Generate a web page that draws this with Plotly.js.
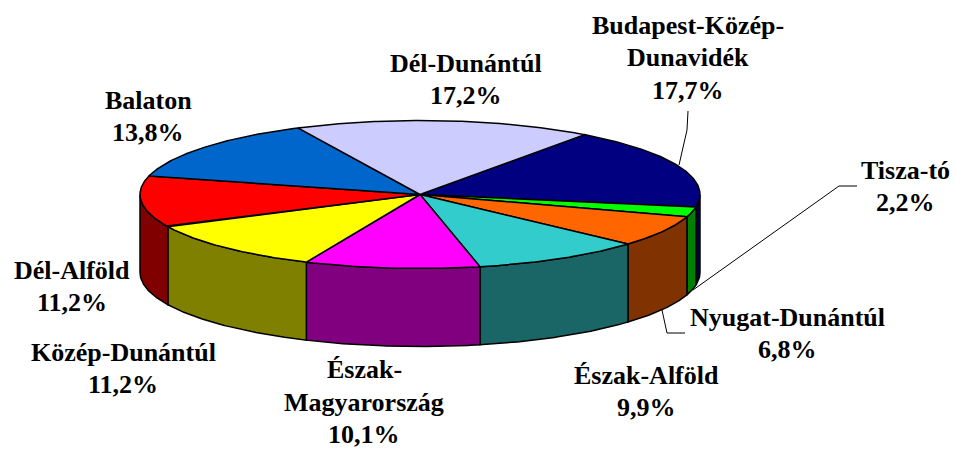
<!DOCTYPE html>
<html>
<head>
<meta charset="utf-8">
<script src="https://cdn.plot.ly/plotly-3.0.1.min.js"></script>
<style>html,body{margin:0;padding:0;background:#fff}#c{width:955px;height:450px}</style>
</head>
<body>
<div id="c"></div>
<script>
// Data, clockwise from the pie's starting angle
const categories = ["Budapest-Közép-Dunavidék","Tisza-tó","Nyugat-Dunántúl","Észak-Alföld","Észak-Magyarország","Közép-Dunántúl","Dél-Alföld","Balaton","Dél-Dunántúl"];
const values = [17.7,2.2,6.8,9.9,10.1,11.2,11.2,13.8,17.2];
const labelLines = [["Budapest-Közép-","Dunavidék"],["Tisza-tó"],["Nyugat-Dunántúl"],["Észak-Alföld"],["Észak-","Magyarország"],["Közép-Dunántúl"],["Dél-Alföld"],["Balaton"],["Dél-Dunántúl"]];
const topColors = ["#000080","#00FF00","#FF6600","#33CCCC","#FF00FF","#FFFF00","#FF0000","#0066CC","#CCCCFF"];
const sideColors = ["#000040","#008000","#803300","#1A6666","#800080","#808000","#800000","#003366","#666680"];

// Geometry of the tilted pie
const cx = 420, cy = 194.5, rx = 280, ry = 74, depth = 78, startDeg = 36;
const labelX = [688,905,787,646,364,123,72,148,466];
const labelY = [25,170,317,375,369.5,352,270,100,63];
const lineGap = 32.5;

const total = values.reduce((a,b)=>a+b,0);
const px = d => cx + rx*Math.sin(d*Math.PI/180);
const py = d => cy - ry*Math.cos(d*Math.PI/180);
function arc(a,b){ const o=[]; const n=Math.max(2,Math.ceil((b-a)/0.5)); for(let i=0;i<=n;i++) o.push(a+(b-a)*i/n); return o; }

const sides=[], tops=[], annotations=[];
let a = startDeg;
values.forEach((v,i)=>{
  const b = a + v/total*360;
  // front wall: the part of the slice lying between 90 and 270 degrees
  const s = Math.max(a,90), e = Math.min(b,270);
  if (e > s){
    const t = arc(s,e);
    sides.push({type:'scatter',mode:'lines',hoverinfo:'skip',showlegend:false,fill:'toself',fillcolor:sideColors[i],
      line:{color:'#000',width:1.5},
      x:[...t.map(px),...t.slice().reverse().map(px),px(t[0])],
      y:[...t.map(py),...t.slice().reverse().map(d=>py(d)+depth),py(t[0])]});
  }
  const t = arc(a,b);
  tops.push({type:'scatter',mode:'lines',hoverinfo:'skip',showlegend:false,fill:'toself',fillcolor:topColors[i],name:categories[i],
    line:{color:'#000',width:1.5},
    x:[cx,...t.map(px),cx], y:[cy,...t.map(py),cy]});
  const lines = [...labelLines[i], v.toFixed(1).replace('.',',')+'%'];
  lines.forEach((txt,k)=>annotations.push({x:labelX[i],y:labelY[i]+k*lineGap,xref:'x',yref:'y',text:txt,showarrow:false,
    xanchor:'center',yanchor:'middle',font:{family:'"Liberation Serif",serif',size:26,color:'#000'}}));
  a = b;
});

const leader = p => ({type:'path',path:p,xref:'x',yref:'y',line:{color:'#000',width:1}});
const layout = {
  width:955,height:450,margin:{l:0,r:0,t:0,b:0},paper_bgcolor:'#fff',plot_bgcolor:'#fff',showlegend:false,
  xaxis:{range:[0,955],visible:false,fixedrange:true},
  yaxis:{range:[450,0],visible:false,fixedrange:true},
  annotations:annotations.map(x=>({...x,text:'<b>'+x.text+'</b>'})),
  shapes:[
    leader('M688,111 L687,130 L679,165'),
    leader('M857,186 L839,186 L693,290'),
    leader('M685,333 L667,333 L662,310')
  ]
};
Plotly.newPlot('c',[...sides,...tops],layout,{displayModeBar:false,staticPlot:true});
</script>
</body>
</html>
